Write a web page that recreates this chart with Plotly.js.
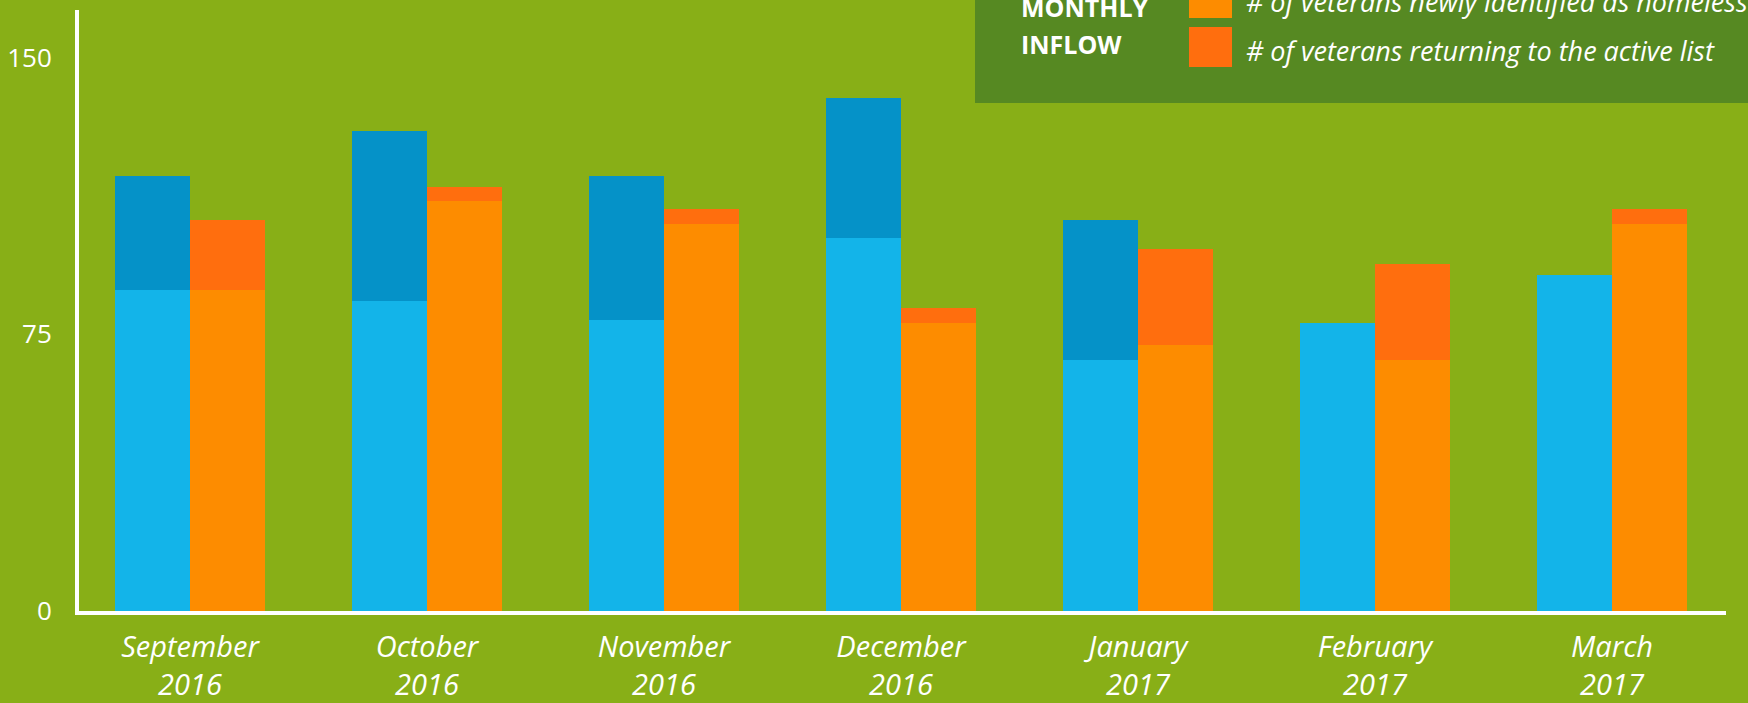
<!DOCTYPE html>
<html>
<head>
<meta charset="utf-8">
<script src="https://cdn.plot.ly/plotly-3.0.1.min.js"></script>
<style>
  html, body { margin: 0; padding: 0; background: #88AF17; }
  #chart { width: 1748px; height: 703px; }
</style>
</head>
<body>
<div id="chart"></div>
<script>
// ---- Data ----
const months = ['September', 'October', 'November', 'December', 'January', 'February', 'March'];
const years = ['2016', '2016', '2016', '2016', '2017', '2017', '2017'];
const outflowLower = [87, 84, 79, 101, 68, 78, 91];      // light blue segment
const outflowUpper = [31, 46, 39, 38, 38, 0, 0];         // dark blue segment
const newlyHomeless = [87, 111, 105, 78, 72, 68, 105];   // orange
const returningActive = [19, 4, 4, 4, 26, 26, 4];        // red-orange
const yTicks = [0, 75, 150];

// ---- Styling ----
const BG = '#88AF17';
const LEGEND_BG = '#568922';
const C_LIGHTBLUE = '#13B4E9';
const C_DARKBLUE = '#0592C8';
const C_ORANGE = '#FD8C00';
const C_REDORANGE = '#FF6E0E';
const FONT = 'Open Sans, Lato, sans-serif';

const W = 1748, H = 703;
const M = {l: 79, r: 22, t: 10, b: 92};
const plotW = W - M.l - M.r, plotH = H - M.t - M.b;
const px = x => (x - M.l) / plotW;           // pixel -> paper x
const py = y => (H - M.b - y) / plotH;       // pixel -> paper y

const idx = months.map((_, i) => i);
const barW = 0.3165;
const xBlue = idx.map(i => i - barW / 2);
const xOrange = idx.map(i => i + barW / 2);

const common = {type: 'bar', width: barW, hoverinfo: 'y+name'};

const traces = [
  Object.assign({}, common, {name: 'Outflow (lower segment)', x: xBlue, y: outflowLower, marker: {color: C_LIGHTBLUE, line: {width: 0}}}),
  Object.assign({}, common, {name: 'Outflow (upper segment)', x: xBlue, y: outflowUpper, marker: {color: C_DARKBLUE, line: {width: 0}}}),
  Object.assign({}, common, {name: '# of veterans newly identified as homeless', x: xOrange, y: newlyHomeless, marker: {color: C_ORANGE, line: {width: 0}}}),
  Object.assign({}, common, {name: '# of veterans returning to the active list', x: xOrange, y: returningActive, marker: {color: C_REDORANGE, line: {width: 0}}})
];

const layout = {
  width: W, height: H,
  margin: {l: M.l, r: M.r, t: M.t, b: M.b, pad: 0},
  paper_bgcolor: BG, plot_bgcolor: BG,
  barmode: 'stack',
  showlegend: false,
  font: {family: FONT, color: '#FFFFFF'},
  xaxis: {
    range: [-0.4684, 6.481],
    tickvals: idx,
    ticktext: months.map((m, i) => '<i>' + m + '</i><br><i>' + years[i] + '</i>'),
    tickfont: {family: FONT, size: 29, color: '#FFFFFF', style: 'italic'},
    ticks: '', showgrid: false, zeroline: false,
    showline: true, linecolor: '#FFFFFF', linewidth: 4,
    ticklabelstandoff: 7,
    fixedrange: true
  },
  yaxis: {
    range: [0, 162.9],
    tickvals: yTicks,
    ticktext: yTicks.map(String),
    tickfont: {family: FONT, size: 26, color: '#FFFFFF'},
    ticks: '', showgrid: false, zeroline: false,
    showline: true, linecolor: '#FFFFFF', linewidth: 4,
    ticklabelstandoff: 18,
    fixedrange: true
  },
  shapes: [
    {type: 'rect', xref: 'paper', yref: 'paper', x0: px(975), x1: px(1760), y0: py(103), y1: py(-10),
     fillcolor: LEGEND_BG, line: {width: 0}, layer: 'below'},
    {type: 'rect', xref: 'paper', yref: 'paper', x0: px(1189), x1: px(1232), y0: py(18), y1: py(-21),
     fillcolor: C_ORANGE, line: {width: 0}},
    {type: 'rect', xref: 'paper', yref: 'paper', x0: px(1189), x1: px(1232), y0: py(67), y1: py(27),
     fillcolor: C_REDORANGE, line: {width: 0}}
  ],
  annotations: [
    {xref: 'paper', yref: 'paper', x: px(1019), y: py(7), xanchor: 'left', yanchor: 'middle', showarrow: false,
     text: '<b>MONTHLY</b>', font: {family: FONT, size: 25, color: '#FFFFFF'}},
    {xref: 'paper', yref: 'paper', x: px(1019), y: py(44), xanchor: 'left', yanchor: 'middle', showarrow: false,
     text: '<b>INFLOW</b>', font: {family: FONT, size: 25, color: '#FFFFFF'}},
    {xref: 'paper', yref: 'paper', x: px(1244), y: py(1), xanchor: 'left', yanchor: 'middle', showarrow: false,
     text: '<i># of veterans newly identified as homeless</i>', font: {family: FONT, size: 27, color: '#FFFFFF', style: 'italic'}},
    {xref: 'paper', yref: 'paper', x: px(1244), y: py(50), xanchor: 'left', yanchor: 'middle', showarrow: false,
     text: '<i># of veterans returning to the active list</i>', font: {family: FONT, size: 27, color: '#FFFFFF', style: 'italic'}}
  ]
};

Plotly.newPlot('chart', traces, layout, {displayModeBar: false, staticPlot: true});
</script>
</body>
</html>
